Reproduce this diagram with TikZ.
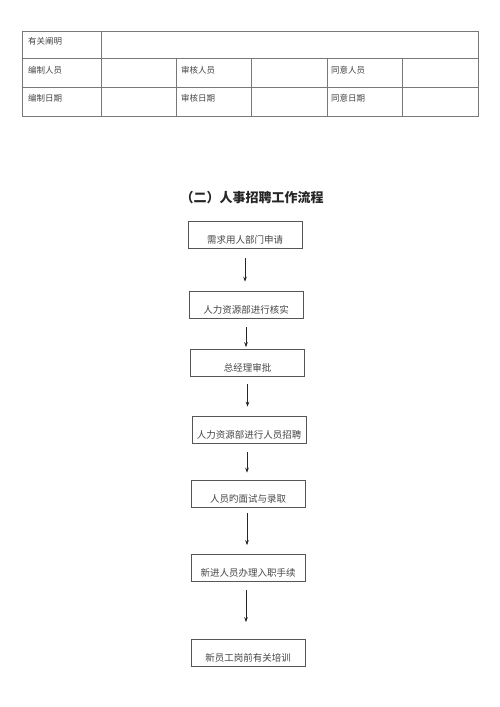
\documentclass[tikz,border=0pt]{standalone}
\usepackage{fontspec}
\usepackage{tikz}
\usetikzlibrary{arrows.meta, positioning, calc}
\newfontfamily\cjk{Noto Sans CJK SC}
\definecolor{FormLine}{RGB}{120, 120, 120}
\definecolor{FormText}{RGB}{70, 70, 70}
\definecolor{BoxLine}{RGB}{85, 85, 85}

\tikzset{
  celltext/.style={anchor=west, inner sep=0pt, text=FormText, font=\cjk\fontsize{8.5}{10}\selectfont},
  stepbox/.style={draw=BoxLine, line width=0.7pt, minimum width=114pt, minimum height=27pt,
    inner sep=0pt, text height=17pt, text depth=0pt, text=FormText,
    font=\cjk\fontsize{9.5}{11}\selectfont},
  flowarrow/.style={-{Stealth[length=5pt,width=3.6pt]}, line width=0.7pt, black!85}
}

\begin{document}
\begin{tikzpicture}[x=1pt,y=-1pt]
  \path[use as bounding box] (0,0) rectangle (500,707);
  \fill[white] (0,0) rectangle (500,707);

  % sign-off table
  \draw[FormLine, line width=0.6pt] (22,31) rectangle (478,116);
  \draw[FormLine, line width=0.6pt] (22,58) -- (478,58);
  \draw[FormLine, line width=0.6pt] (22,87) -- (478,87);
  \draw[FormLine, line width=0.6pt] (101,31) -- (101,116);
  \foreach \cx in {176,251,327,402}
    \draw[FormLine, line width=0.6pt] (\cx,58) -- (\cx,116);

  \node[celltext] (note) at (28,41) {有关阐明};
  \node[celltext] (editor) at (28,70) {编制人员};
  \node[celltext] (editdate) at (28,98) {编制日期};
  \node[celltext] (checker) at (181,70) {审核人员};
  \node[celltext] (checkdate) at (181,98) {审核日期};
  \node[celltext] (approver) at (331,70) {同意人员};
  \node[celltext] (approvedate) at (331,98) {同意日期};

  % title
  \node[text=black!85, font=\cjk\bfseries\fontsize{13}{15}\selectfont] (title) at (252,198) {（二）人事招聘工作流程};

  % flow
  \node[stepbox] (apply) at (245,235) {需求用人部门申请};
  \node[stepbox] (verify) at (246,304.5) {人力资源部进行核实};
  \node[stepbox] (approve) at (247.5,363) {总经理审批};
  \node[stepbox] (recruit) at (249,429.5) {人力资源部进行人员招聘};
  \node[stepbox] (interview) at (248,493.5) {人员旳面试与录取};
  \node[stepbox] (onboard) at (248,568) {新进人员办理入职手续};
  \node[stepbox] (training) at (248,653) {新员工岗前有关培训};

  \draw[flowarrow, shorten <=9pt, shorten >=9pt] (apply.south) -- (apply.south |- verify.north);
  \draw[flowarrow, shorten <=9pt, shorten >=2pt] (verify.south) -- (verify.south |- approve.north);
  \draw[flowarrow, shorten <=7pt, shorten >=9pt] (approve.south) -- (approve.south |- recruit.north);
  \draw[flowarrow, shorten <=9pt, shorten >=7pt] ($(recruit.south)+(-2,0)$) -- ($(recruit.south |- interview.north)+(-2,0)$);
  \draw[flowarrow, shorten <=6pt, shorten >=9pt] ($(interview.south)+(-1,0)$) -- ($(interview.south |- onboard.north)+(-1,0)$);
  \draw[flowarrow, shorten <=8pt, shorten >=17pt] ($(onboard.south)+(-2,0)$) -- ($(onboard.south |- training.north)+(-2,0)$);
\end{tikzpicture}
\end{document}
